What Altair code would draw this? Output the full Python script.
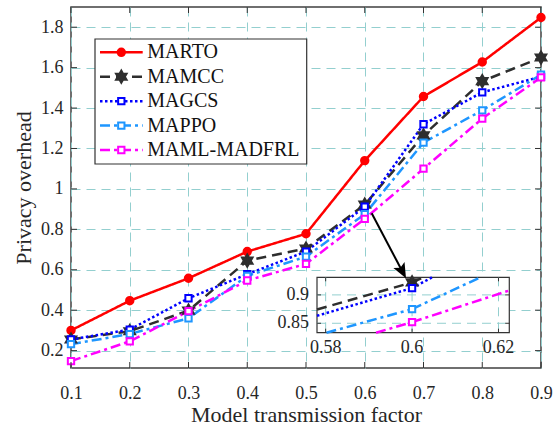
import altair as alt
import pandas as pd

# ---------------- data ----------------
x_vals = [0.1, 0.2, 0.3, 0.4, 0.5, 0.6, 0.7, 0.8, 0.9]
names = ["MARTO", "MAMCC", "MAGCS", "MAPPO", "MAML-MADFRL"]
marto = [0.300, 0.447, 0.558, 0.690, 0.778, 1.140, 1.457, 1.628, 1.848]
mamcc = [0.255, 0.296, 0.398, 0.645, 0.705, 0.922, 1.265, 1.533, 1.650]
magcs = [0.255, 0.304, 0.459, 0.578, 0.690, 0.912, 1.320, 1.478, 1.555]
mappo = [0.232, 0.282, 0.360, 0.570, 0.665, 0.875, 1.229, 1.389, 1.565]
maml = [0.148, 0.246, 0.395, 0.547, 0.629, 0.852, 1.100, 1.348, 1.552]
series = [marto, mamcc, magcs, mappo, maml]

y_ticks = [0.2, 0.4, 0.6, 0.8, 1.0, 1.2, 1.4, 1.6, 1.8]
inset_x_ticks = [0.58, 0.60, 0.62]
inset_y_ticks = [0.85, 0.90]

# ---------------- styles ----------------
colors = ["#ff0000", "#2e2e2e", "#0000ff", "#1e96ff", "#ff00ff"]
fills = ["#ff0000", "#2e2e2e", "#ffffff", "#ffffff", "#ffffff"]
dashes = [[1, 0], [10, 6], [2.5, 2.5], [10, 4, 3, 4], [10, 4, 3, 4]]
star = ("M0,-1L0.289,-0.5L0.866,-0.5L0.577,0L0.866,0.5L0.289,0.5L0,1"
        "L-0.289,0.5L-0.866,0.5L-0.577,0L-0.866,-0.5L-0.289,-0.5Z")
shapes = ["circle", star, "square", "square", "square"]
sizes = [55, 150, 40, 40, 40]
FONT = "Liberation Serif"
GRID = "#93cfcf"
AX = "#333333"

W, H = 470, 361
X0, X1, Y0, Y1 = 0.578, 0.6225, 0.8334, 0.931          # inset limits
IBOX = (246, 438.3, 270.3, 325.7)                       # inset box in plot px

rows = []
for n, s in zip(names, series):
    for xv, yv in zip(x_vals, s):
        rows.append({"name": n, "x": xv, "y": yv})
df = pd.DataFrame(rows)

color = alt.Color("name:N", scale=alt.Scale(domain=names, range=colors), legend=None)
stroke = alt.Stroke("name:N", scale=alt.Scale(domain=names, range=colors), legend=None)
fill = alt.Fill("name:N", scale=alt.Scale(domain=names, range=fills), legend=None)
dash = alt.StrokeDash("name:N", scale=alt.Scale(domain=names, range=dashes), legend=None)
shape = alt.Shape("name:N", scale=alt.Scale(domain=names, range=shapes), legend=None)
size = alt.Size("name:N", scale=alt.Scale(type="ordinal", domain=names, range=sizes), legend=None)

# ---------------- main plot ----------------
xs = alt.Scale(domain=[0.1, 0.9], nice=False, zero=False)
ys = alt.Scale(domain=[0.114, 1.9], nice=False, zero=False)
x_axis = alt.Axis(values=x_vals, format=".1f", title="Model transmission factor",
                  labelPadding=16, titlePadding=2)
y_axis = alt.Axis(values=y_ticks, format="~g", title="Privacy overhead",
                  labelPadding=8, titlePadding=5)
xe = alt.X("x:Q", scale=xs, axis=x_axis)
ye = alt.Y("y:Q", scale=ys, axis=y_axis)

base = alt.Chart(df)
lines = base.mark_line(strokeWidth=2.5).encode(x=xe, y=ye, color=color, strokeDash=dash)
pts = base.mark_point(filled=True, strokeWidth=2, opacity=1).encode(
    x=xe, y=ye, shape=shape, stroke=stroke, fill=fill, size=size)

xt = pd.DataFrame({"x": x_vals})
yt = pd.DataFrame({"y": y_ticks})
tb = alt.Chart(xt).mark_rule(color=AX, strokeWidth=1).encode(x=xe, y=alt.value(H), y2=alt.value(H - 6))
tt = alt.Chart(xt).mark_rule(color=AX, strokeWidth=1).encode(x=xe, y=alt.value(0), y2=alt.value(6))
tl = alt.Chart(yt).mark_rule(color=AX, strokeWidth=1).encode(y=ye, x=alt.value(0), x2=alt.value(6))
tr = alt.Chart(yt).mark_rule(color=AX, strokeWidth=1).encode(y=ye, x=alt.value(W), x2=alt.value(W - 6))

main = alt.layer(lines, pts, tb, tt, tl, tr)

# ---------------- inset ----------------
ixs = alt.Scale(domain=[X0, X1], range=[IBOX[0], IBOX[1]], nice=False, zero=False)
iys = alt.Scale(domain=[Y0, Y1], range=[IBOX[3], IBOX[2]], nice=False, zero=False)
one = pd.DataFrame({"a": [0]})

ibg = alt.Chart(one).mark_rect(fill="white", stroke=AX, strokeWidth=1.2).encode(
    x=alt.value(IBOX[0]), x2=alt.value(IBOX[1]), y=alt.value(IBOX[2]), y2=alt.value(IBOX[3]))

ixt = pd.DataFrame({"v": inset_x_ticks})
iyt = pd.DataFrame({"v": inset_y_ticks})
igx = alt.Chart(ixt).mark_rule(color=GRID, strokeDash=[9, 6], strokeWidth=1).encode(
    x=alt.X("v:Q", scale=ixs, axis=None), y=alt.value(IBOX[2]), y2=alt.value(IBOX[3]))
igy = alt.Chart(iyt).mark_rule(color=GRID, strokeDash=[9, 6], strokeWidth=1).encode(
    y=alt.Y("v:Q", scale=iys, axis=None), x=alt.value(IBOX[0]), x2=alt.value(IBOX[1]))

segs = (
    alt.Chart(df)
    .transform_window(nx="lead(x)", ny="lead(y)", groupby=["name"], sort=[alt.SortField("x")])
    .transform_filter("isValid(datum.nx)")
    .transform_calculate(dx="datum.nx - datum.x", dy="datum.ny - datum.y")
    .transform_calculate(ta=f"({Y0} - datum.y) / datum.dy", tb=f"({Y1} - datum.y) / datum.dy")
    .transform_calculate(
        t0=f"max(0, ({X0} - datum.x) / datum.dx, min(datum.ta, datum.tb))",
        t1=f"min(1, ({X1} - datum.x) / datum.dx, max(datum.ta, datum.tb))")
    .transform_filter("datum.t0 < datum.t1")
    .transform_calculate(sx="datum.x + datum.t0 * datum.dx", sy="datum.y + datum.t0 * datum.dy",
                         ex="datum.x + datum.t1 * datum.dx", ey="datum.y + datum.t1 * datum.dy")
    .mark_rule(strokeWidth=2.5)
    .encode(x=alt.X("sx:Q", scale=ixs, axis=None), x2="ex:Q",
            y=alt.Y("sy:Q", scale=iys, axis=None), y2="ey:Q",
            color=color, strokeDash=dash)
)
ipts = (
    alt.Chart(df)
    .transform_filter(f"datum.x >= {X0} && datum.x <= {X1} && datum.y >= {Y0} && datum.y <= {Y1}")
    .mark_point(filled=True, strokeWidth=2, opacity=1)
    .encode(x=alt.X("x:Q", scale=ixs, axis=None), y=alt.Y("y:Q", scale=iys, axis=None),
            shape=shape, stroke=stroke, fill=fill, size=size)
)
ilx = alt.Chart(ixt).mark_text(font=FONT, fontSize=18, baseline="middle", color="#262626").encode(
    x=alt.X("v:Q", scale=ixs, axis=None), y=alt.value(341), text=alt.Text("v:Q", format="~g"))
ily = alt.Chart(iyt).mark_text(font=FONT, fontSize=18, baseline="middle", align="right",
                                color="#262626").encode(
    y=alt.Y("v:Q", scale=iys, axis=None), x=alt.value(IBOX[0] - 8), text=alt.Text("v:Q", format="~g"))
itl = alt.Chart(iyt).mark_rule(color=AX).encode(
    y=alt.Y("v:Q", scale=iys, axis=None), x=alt.value(IBOX[0]), x2=alt.value(IBOX[0] + 4))
itr = alt.Chart(iyt).mark_rule(color=AX).encode(
    y=alt.Y("v:Q", scale=iys, axis=None), x=alt.value(IBOX[1]), x2=alt.value(IBOX[1] - 4))
itb = alt.Chart(ixt).mark_rule(color=AX).encode(
    x=alt.X("v:Q", scale=ixs, axis=None), y=alt.value(IBOX[3]), y2=alt.value(IBOX[3] - 4))
itt = alt.Chart(ixt).mark_rule(color=AX).encode(
    x=alt.X("v:Q", scale=ixs, axis=None), y=alt.value(IBOX[2]), y2=alt.value(IBOX[2] + 4))

inset = alt.layer(ibg, igx, igy, segs, ipts, ilx, ily, itl, itr, itb, itt)

# ---------------- legend + arrow ----------------
ldf = pd.DataFrame({"name": names})
ly = alt.Y("name:N", scale=alt.Scale(domain=names, range=[45.3, 143], type="point", padding=0), axis=None)
lbox = alt.Chart(one).mark_rect(fill="white", stroke=AX, strokeWidth=1.2).encode(
    x=alt.value(24), x2=alt.value(235.7), y=alt.value(32), y2=alt.value(157))
lrule = alt.Chart(ldf).mark_rule(strokeWidth=2.5).encode(
    x=alt.value(29), x2=alt.value(71.7), y=ly, color=color, strokeDash=dash)
lpts = alt.Chart(ldf).mark_point(filled=True, strokeWidth=2, opacity=1).encode(
    x=alt.value(50.3), y=ly, shape=shape, stroke=stroke, fill=fill, size=size)
ltxt = alt.Chart(ldf).mark_text(font=FONT, fontSize=20, align="left", baseline="middle",
                                color="#111111").encode(
    x=alt.value(76.3), y=ly, text="name:N")

arrow_line = alt.Chart(one).mark_rule(color="black", strokeWidth=2).encode(
    x=alt.value(300.7), x2=alt.value(333), y=alt.value(206.3), y2=alt.value(267.5))
arrow_head = alt.Chart(one).mark_point(
    shape="M0,0L-0.42,-1L0,-0.8L0.42,-1Z", angle=332, size=900, filled=True,
    color="black", opacity=1).encode(x=alt.value(335), y=alt.value(271.3))

legend = alt.layer(lbox, lrule, lpts, ltxt, arrow_line, arrow_head)

chart = (
    alt.layer(main, inset, legend)
    .resolve_scale(x="independent", y="independent")
    .properties(width=W, height=H,
                autosize=alt.AutoSizeParams(type="none"),
                padding={"left": 71, "top": 7, "right": 17, "bottom": 58})
    .configure(font=FONT, background="white")
    .configure_view(stroke="#404040", strokeWidth=1.5)
    .configure_axis(labelFont=FONT, titleFont=FONT, labelFontSize=18, titleFontSize=22,
                    titleFontWeight="normal", labelColor="#262626", titleColor="#262626",
                    domain=False, ticks=False, grid=True, gridColor=GRID, gridDash=[9, 6],
                    gridWidth=1, gridOpacity=1, labelFlush=False, labelOverlap=False)
)

chart.save("out.html", embed_options={"renderer": "svg", "actions": False})
